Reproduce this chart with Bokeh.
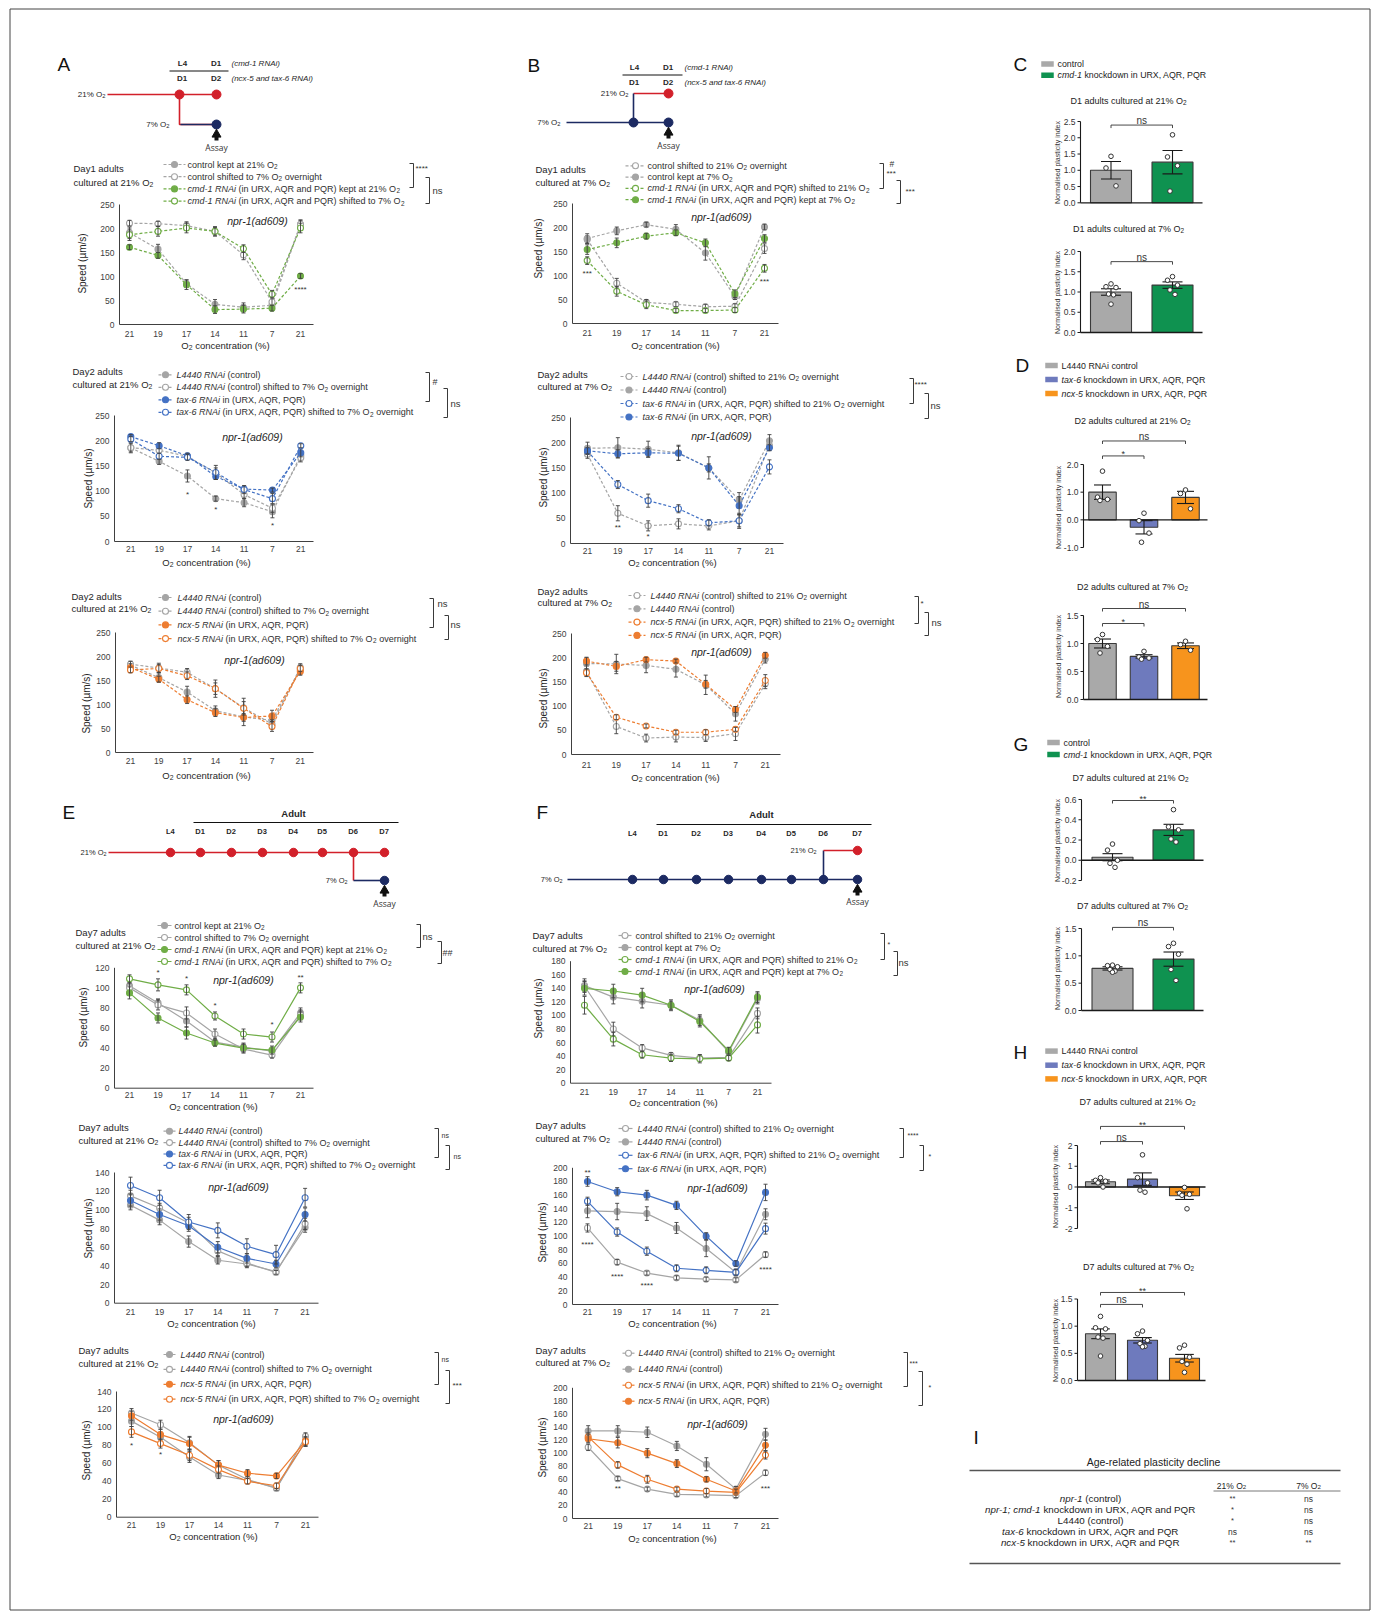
import math
from collections import defaultdict
from bokeh.plotting import figure
from bokeh.models import Range1d, ColumnDataSource
from bokeh.core.properties import value
from bokeh.embed import file_html
from bokeh.resources import INLINE

ARIAL = "Liberation Sans"
OPEN = "Open Sans"

# ------------------------------------------------------------------ data
X_LABELS = ["21", "19", "17", "14", "11", "7", "21"]

A1_LABELS = ["control kept at 21% O_2", "control shifted to 7% O_2 overnight",
             "*cmd-1 RNAi* (in URX, AQR and PQR) kept at 21% O_2",
             "*cmd-1 RNAi* (in URX, AQR and PQR) shifted to 7% O_2"]
A1_VALUES = [[191, 157, 85, 42, 36, 40, 208], [211, 210, 206, 194, 145, 47, 209],
             [161, 144, 83, 31, 32, 34, 101], [187, 194, 201, 194, 158, 63, 201]]
A1_ERRORS = [[12, 10, 8, 10, 9, 6, 10], [6, 5, 8, 8, 10, 10, 8],
             [5, 6, 10, 8, 8, 6, 5], [12, 10, 10, 10, 8, 8, 10]]
A1_STARS = [(6, 73, "****")]

A2_LABELS = ["*L4440 RNAi* (control)", "*L4440 RNAi* (control) shifted to 7% O_2 overnight",
             "*tax-6 RNAi* in (URX, AQR, PQR)", "*tax-6 RNAi* (in URX, AQR, PQR) shifted to 7% O_2 overnight"]
A2_VALUES = [[186, 159, 130, 85, 77, 59, 171], [186, 181, 169, 136, 93, 66, 166],
             [208, 190, 170, 129, 104, 102, 176], [203, 169, 167, 137, 103, 85, 190]]
A2_ERRORS = [[8, 6, 12, 5, 8, 12, 8], [10, 8, 6, 10, 8, 8, 8],
             [4, 6, 5, 6, 6, 4, 8], [5, 6, 6, 14, 8, 10, 4]]
A2_STARS = [(2, 93, "*"), (3, 63, "*"), (5, 32, "*")]

A3_LABELS = ["*L4440 RNAi* (control)", "*L4440 RNAi* (control) shifted to 7% O_2 overnight",
             "*ncx-5 RNAi* (in URX, AQR, PQR)", "*ncx-5 RNAi* (in URX, AQR, PQR) shifted to 7% O_2 overnight"]
A3_VALUES = [[182, 156, 126, 87, 74, 67, 173], [184, 176, 167, 133, 93, 59, 177],
             [177, 153, 110, 83, 73, 76, 169], [172, 175, 160, 133, 92, 54, 175]]
A3_ERRORS = [[8, 10, 12, 10, 18, 10, 10], [6, 10, 8, 18, 20, 10, 8],
             [8, 6, 8, 8, 8, 12, 8], [6, 8, 8, 12, 14, 10, 6]]

B1_LABELS = ["control shifted to 21% O_2 overnight", "control kept at 7% O_2",
             "*cmd-1 RNAi* (in URX, AQR and PQR) shifted to 21% O_2",
             "*cmd-1 RNAi* (in URX, AQR and PQR) kept at 7% O_2"]
B1_VALUES = [[175, 84, 44, 40, 35, 36, 156], [177, 193, 206, 196, 147, 56, 201],
             [131, 67, 39, 27, 27, 28, 115], [154, 168, 182, 189, 168, 62, 177]]
B1_ERRORS = [[8, 10, 6, 5, 5, 5, 10], [10, 8, 5, 10, 15, 6, 6],
             [8, 10, 8, 4, 4, 5, 8], [10, 10, 6, 6, 8, 8, 8]]
B1_STARS = [(0, 104, "***"), (6, 88, "***")]

B2_LABELS = ["*L4440 RNAi* (control) shifted to 21% O_2 overnight", "*L4440 RNAi* (control)",
             "*tax-6 RNAi* in (URX, AQR, PQR) shifted to 21% O_2 overnight", "*tax-6 RNAi* (in URX, AQR, PQR)"]
B2_VALUES = [[177, 60, 35, 39, 35, 45, 195], [189, 190, 187, 180, 150, 86, 204],
             [183, 117, 85, 69, 41, 45, 152], [184, 178, 180, 179, 150, 75, 190]]
B2_ERRORS = [[8, 15, 10, 10, 8, 15, 10], [12, 20, 16, 15, 22, 15, 12],
             [6, 8, 13, 8, 6, 12, 14], [6, 8, 8, 14, 8, 18, 6]]
B2_STARS = [(1, 32, "**"), (2, 14, "*")]

B3_LABELS = ["*L4440 RNAi* (control) shifted to 21% O_2 overnight", "*L4440 RNAi* (control)",
             "*ncx-5 RNAi* (in URX, AQR, PQR) shifted to 21% O_2 overnight", "*ncx-5 RNAi* (in URX, AQR, PQR)"]
B3_VALUES = [[172, 58, 34, 36, 35, 43, 146], [188, 187, 184, 176, 144, 84, 197],
             [169, 77, 59, 46, 46, 52, 153], [193, 182, 196, 193, 145, 93, 205]]
B3_ERRORS = [[10, 15, 8, 10, 8, 14, 10], [12, 20, 15, 16, 20, 15, 8],
             [8, 5, 4, 4, 5, 4, 12], [8, 10, 5, 4, 8, 6, 6]]

E1_LABELS = A1_LABELS
E1_VALUES = [[102, 85, 67, 46, 41, 37, 75], [100, 83, 75, 54, 39, 33, 73],
             [95, 70, 55, 45, 40, 38, 71], [109, 103, 98, 72, 54, 51, 100]]
E1_ERRORS = [[5, 4, 6, 4, 4, 3, 5], [5, 5, 6, 5, 4, 3, 5],
             [6, 5, 6, 3, 4, 4, 5], [4, 6, 5, 4, 5, 5, 5]]
E1_STARS = [(1, 115, "*"), (2, 109, "*"), (3, 82, "*"), (5, 63, "*"), (6, 110, "**")]

E2_LABELS = A2_LABELS
E2_VALUES = [[105, 89, 66, 46, 42, 34, 81], [115, 102, 86, 56, 43, 33, 85],
             [110, 95, 83, 60, 48, 42, 95], [126, 113, 87, 78, 61, 52, 113]]
E2_ERRORS = [[5, 5, 6, 4, 4, 2, 5], [6, 5, 6, 5, 4, 2, 6],
             [6, 6, 6, 6, 5, 4, 7], [9, 8, 8, 8, 8, 10, 10]]

E3_LABELS = A3_LABELS
E3_VALUES = [[107, 89, 67, 47, 41, 33, 84], [116, 103, 83, 58, 42, 32, 90],
             [113, 92, 82, 58, 49, 46, 85], [95, 82, 69, 53, 40, 35, 84]]
E3_ERRORS = [[6, 6, 6, 4, 3, 2, 5], [5, 5, 7, 5, 4, 2, 4],
             [5, 6, 7, 5, 4, 3, 5], [6, 5, 6, 4, 3, 3, 5]]
E3_STARS = [(0, 80, "*"), (1, 70, "*")]

F1_LABELS = ["control shifted to 21% O_2 overnight", "control kept at 7% O_2",
             "*cmd-1 RNAi* (in URX, AQR and PQR) shifted to 21% O_2",
             "*cmd-1 RNAi* (in URX, AQR and PQR) kept at 7% O_2"]
F1_VALUES = [[143, 80, 52, 41, 37, 38, 103], [144, 127, 121, 115, 93, 46, 125],
             [115, 65, 42, 37, 36, 37, 86], [140, 136, 130, 115, 91, 48, 127]]
F1_ERRORS = [[8, 10, 5, 4, 5, 4, 8], [10, 10, 10, 8, 8, 5, 8],
             [13, 10, 5, 5, 6, 4, 12], [10, 10, 10, 6, 8, 5, 8]]

F2_LABELS = ["*L4440 RNAi* (control) shifted to 21% O_2 overnight", "*L4440 RNAi* (control)",
             "*tax-6 RNAi* (in URX, AQR, PQR) shifted to 21% O_2 overnight", "*tax-6 RNAi* (in URX, AQR, PQR)"]
F2_VALUES = [[112, 62, 46, 39, 37, 36, 73], [137, 136, 133, 112, 82, 47, 132],
             [151, 106, 78, 53, 50, 47, 111], [180, 165, 160, 145, 100, 60, 164]]
F2_ERRORS = [[6, 4, 3, 3, 3, 3, 4], [10, 12, 10, 8, 12, 5, 8],
             [6, 6, 6, 5, 5, 4, 8], [7, 6, 7, 6, 5, 4, 12]]
F2_STARS = [(0, 193, "**"), (0, 88, "****"), (1, 41, "****"), (2, 28, "****"), (6, 51, "****")]

F3_LABELS = ["*L4440 RNAi* (control) shifted to 21% O_2 overnight", "*L4440 RNAi* (control)",
             "*ncx-5 RNAi* (in URX, AQR, PQR) shifted to 21% O_2 overnight", "*ncx-5 RNAi* (in URX, AQR, PQR)"]
F3_VALUES = [[109, 61, 45, 37, 36, 35, 70], [134, 134, 132, 111, 83, 45, 129],
             [125, 82, 60, 45, 42, 40, 97], [122, 116, 100, 84, 60, 42, 112]]
F3_ERRORS = [[5, 3, 3, 3, 3, 3, 4], [8, 8, 8, 7, 10, 4, 9],
             [6, 5, 6, 3, 4, 4, 6], [6, 8, 7, 6, 4, 3, 8]]
F3_STARS = [(1, 46, "**"), (6, 46, "***")]

# bar charts
CG_LEGEND = ["control", "*cmd-1* knockdown in URX, AQR, PQR"]
DH_LEGEND = ["L4440 RNAi control", "*tax-6* knockdown in URX, AQR, PQR", "*ncx-5* knockdown in URX, AQR, PQR"]

C1_MEAN = [1.00, 1.25]
C1_SEM = [0.27, 0.36]
C1_PTS = [[1.43, 1.07, 0.52], [2.09, 1.41, 1.14, 0.36]]
C1_BR = [(0, 1, 2.39, "ns")]
C2_MEAN = [1.00, 1.17]
C2_SEM = [0.08, 0.08]
C2_PTS = [[1.20, 1.13, 1.11, 0.95, 0.93, 0.70], [1.38, 1.29, 1.17, 1.05, 0.94]]
C2_BR = [(0, 1, 1.75, "ns")]
D1_MEAN = [1.00, -0.27, 0.81]
D1_SEM = [0.26, 0.24, 0.22]
D1_PTS = [[1.76, 0.82, 0.74, 0.70], [0.24, -0.03, -0.48, -0.81], [1.08, 0.95, 0.40]]
D1_BR = [(0, 2, 2.85, "ns"), (0, 1, 2.31, "*")]
D2_MEAN = [1.00, 0.77, 0.96]
D2_SEM = [0.08, 0.03, 0.05]
D2_PTS = [[1.16, 1.07, 0.95, 0.83], [0.86, 0.76, 0.74, 0.72], [1.04, 0.98, 0.88]]
D2_BR = [(0, 2, 1.625, "ns"), (0, 1, 1.357, "*")]
G1_MEAN = [0.03, 0.30]
G1_SEM = [0.035, 0.055]
G1_PTS = [[0.16, 0.10, 0.00, -0.03, -0.07], [0.50, 0.33, 0.30, 0.21, 0.18]]
G1_BR = [(0, 1, 0.59, "**")]
G2_MEAN = [0.77, 0.94]
G2_SEM = [0.03, 0.13]
G2_PTS = [[0.83, 0.82, 0.80, 0.75, 0.72, 0.70], [1.23, 1.17, 1.03, 0.75, 0.55]]
G2_BR = [(0, 1, 1.52, "ns")]
H1_MEAN = [0.25, 0.38, -0.42]
H1_SEM = [0.09, 0.30, 0.18]
H1_PTS = [[0.45, 0.32, 0.28, 0.20, 0.00], [1.55, 0.45, 0.20, -0.15, -0.25], [-0.02, -0.30, -0.35, -0.40, -1.05]]
H1_BR = [(0, 2, 2.92, "**"), (0, 1, 2.19, "ns")]
H2_MEAN = [0.86, 0.74, 0.41]
H2_SEM = [0.09, 0.05, 0.07]
H2_PTS = [[1.18, 0.97, 0.95, 0.80, 0.78, 0.45], [0.91, 0.86, 0.74, 0.68, 0.63, 0.62],
          [0.65, 0.60, 0.43, 0.35, 0.30, 0.15]]
H2_BR = [(0, 2, 1.62, "**"), (0, 1, 1.40, "ns")]

# table
TABLE_ROWS = ["*npr-1* (control)", "*npr-1; cmd-1* knockdown in URX, AQR and PQR", "L4440 (control)",
              "*tax-6* knockdown in URX, AQR and PQR", "*ncx-5* knockdown in URX, AQR and PQR"]
TABLE_COLS = ["21% O_2", "7% O_2"]
TABLE_21 = ["**", "*", "*", "ns", "**"]
TABLE_7 = ["ns", "ns", "ns", "ns", "**"]

A_STAGES = ["L4", "D1"]
A_STAGES2 = ["D1", "D2"]
E_STAGES = ["L4", "D1", "D2", "D3", "D4", "D5", "D6", "D7"]

# ------------------------------------------------------------------ styles
GRAY = "#a5a5a5"
GREEN = "#70ad47"
BLUE = "#4472c4"
ORANGE = "#ed7d31"
ERRC = "#404040"
AXC = "#404040"
TXT = "#262626"
TICK = "#404040"
RED = "#d2202a"
NAVY = "#1c2a62"
BAR_GRAY = "#a9a9a9"
BAR_GREEN = "#0f9250"
BAR_BLUE = "#6e7abd"
BAR_ORANGE = "#f7941d"
BAR_LINE = "#3a3a3a"
SUBF = 0.72

AW = {' ': 278, '!': 278, '"': 355, '#': 556, '%': 889, '&': 667, "'": 191, '(': 333, ')': 333, '*': 389,
      '+': 584, ',': 278, '-': 333, '.': 278, '/': 278, ':': 278, ';': 278, '?': 556, 'A': 667, 'B': 667,
      'C': 722, 'D': 722, 'E': 667, 'F': 611, 'G': 778, 'H': 722, 'I': 278, 'J': 500, 'K': 667, 'L': 556,
      'M': 833, 'N': 722, 'O': 778, 'P': 667, 'Q': 778, 'R': 722, 'S': 667, 'T': 611, 'U': 722, 'V': 667,
      'W': 944, 'X': 667, 'Y': 667, 'Z': 611, 'a': 556, 'b': 556, 'c': 500, 'd': 556, 'e': 556, 'f': 278,
      'g': 556, 'h': 556, 'i': 222, 'j': 222, 'k': 500, 'l': 222, 'm': 833, 'n': 556, 'o': 556, 'p': 556,
      'q': 556, 'r': 333, 's': 500, 't': 278, 'u': 556, 'v': 500, 'w': 722, 'x': 500, 'y': 500, 'z': 500,
      'µ': 556}


def tw(s, size, bold=False):
    return sum(AW.get(c, 556) for c in s) / 1000.0 * size * (1.07 if bold else 1.0)


TEXTS = []


def add_text(x, y, s, size, style="normal", align="left", baseline="middle", color=TXT, angle=0.0, font=ARIAL):
    TEXTS.append((x, y, s, round(size, 2), style, align, baseline, color, round(angle, 5), font))


def parse_rich(s):
    runs, ital, buf, i = [], False, "", 0
    while i < len(s):
        c = s[i]
        if c == "*":
            if buf:
                runs.append((buf, ital, False))
                buf = ""
            ital = not ital
        elif c == "_":
            if buf:
                runs.append((buf, ital, False))
                buf = ""
            runs.append((s[i + 1], False, True))
            i += 1
        else:
            buf += c
        i += 1
    if buf:
        runs.append((buf, ital, False))
    return runs


def rich(x, y, s, size, align="left", color=TXT, bold=False, font=ARIAL, plain=False):
    runs = [(s, False, False)] if plain else parse_rich(s)
    ws = [tw(t, size * (SUBF if sb else 1.0), bold and not sb) for t, it, sb in runs]
    tot = sum(ws)
    cx = x - (tot if align == "right" else tot / 2.0 if align == "center" else 0.0)
    for (t, it, sb), w in zip(runs, ws):
        fs = size * (SUBF if sb else 1.0)
        lead = len(t) - len(t.lstrip(" "))
        core = t.strip(" ")
        if core:
            x0 = cx + tw(" " * lead, fs, bold and not sb)
            if sb:
                add_text(x0, y + 0.22 * size, core, fs, "normal", "left", "middle", color, 0.0, font)
            else:
                style = "italic" if it else ("bold" if bold else "normal")
                add_text(x0, y, core, fs, style, "left", "middle", color, 0.0, font)
        cx += w


# ------------------------------------------------------------------ canvas (page pixel coordinates)
PW, PH = 1372, 1612
p = figure(width=PW, height=PH, x_range=Range1d(0, PW), y_range=Range1d(PH, 0),
           output_backend="svg", toolbar_location=None, x_axis_location=None, y_axis_location=None,
           min_border=0, outline_line_color=None)
p.grid.visible = False
p.background_fill_color = "white"
p.border_fill_color = "white"

# outer frame
p.line(x=[9.5, 1369.5, 1369.5, 9.5, 9.5], y=[8.5, 8.5, 1609.5, 1609.5, 8.5], line_color="#444444", line_width=1)


def bracket(x, y1, y2, w=4):
    p.line(x=[x - w, x, x, x - w], y=[y1, y1, y2, y2], line_color="#3a3a3a", line_width=1)


def line_chart(labels, vals, errs, colors, filled, dash, ymax, ystep, title, stars, L):
    n = len(X_LABELS)
    xs = list(range(n))
    x_lo = (L["axl"] - L["cx0"]) / L["cdx"]
    x_hi = (L["axr"] - L["cx0"]) / L["cdx"]
    sub = p.subplot(x_source=Range1d(x_lo, x_hi), y_source=Range1d(0, ymax),
                    x_target=Range1d(L["axl"], L["axr"]), y_target=Range1d(L["y0"], L["ytop"]))
    dpp = ymax / (L["y0"] - L["ytop"])
    sub.line(x=[x_lo, x_lo, x_hi], y=[ymax, 0, 0], line_color=AXC, line_width=1)
    yt = list(range(0, ymax + 1, ystep))
    sub.text(x=[x_lo] * len(yt), y=yt, text=[str(v) for v in yt], x_offset=-5, text_align="right",
             text_baseline="middle", text_font=value(ARIAL), text_font_size=value("8.5px"), text_color=TICK)
    ylab = -(L["xlab"] - L["y0"]) * dpp
    sub.text(x=xs, y=[ylab] * n, text=X_LABELS, text_align="center", text_baseline="middle",
             text_font=value(ARIAL), text_font_size=value("8.5px"), text_color=TICK)
    for k in range(len(vals)):
        v, e, c = vals[k], errs[k], colors[k]
        sub.line(x=xs, y=v, line_color=c, line_width=1.2, line_dash=dash)
        sub.scatter(x=xs, y=v, size=6, marker="circle", fill_color=c if filled[k] else "white",
                    line_color=c, line_width=1.1)
        lo = [a - b for a, b in zip(v, e)]
        hi = [a + b for a, b in zip(v, e)]
        sub.segment(x0=xs, y0=lo, x1=xs, y1=hi, line_color=ERRC, line_width=0.9)
        sub.scatter(x=xs + xs, y=lo + hi, marker="dash", size=4, line_color=ERRC, line_width=0.9)
    for (ci, yv, s) in stars:
        sub.text(x=[ci], y=[yv], text=[s], text_align="center", text_baseline="middle",
                 text_font=value(ARIAL), text_font_size=value("8px"), text_color="#333333")
    # legend
    for k in range(len(vals)):
        y = L["ly0"] + k * L["ldy"]
        c = colors[k]
        p.line(x=[L["lx0"], L["lx0"] + L["llen"]], y=[y, y], line_color=c, line_width=1.2, line_dash=dash)
        p.scatter(x=[L["lx0"] + L["llen"] / 2.0], y=[y], size=6, marker="circle",
                  fill_color=c if filled[k] else "white", line_color=c, line_width=1.1)
        rich(L["ltx"], y, labels[k], 9.0, color="#303030")
    rich(L["tt"][0], L["tt"][1], title[0], 9.5)
    rich(L["tt"][0], L["tt"][2], title[1], 9.5)
    rich(L["npr"][0], L["npr"][1], "*npr-1(ad609)*", 10.5, align="center")
    rich(L["xt"][0], L["xt"][1], "O_2 concentration (%)", 9.5, align="center")
    add_text(L["yt"][0], L["yt"][1], "Speed (µm/s)", 10, align="center", angle=math.pi / 2)
    for (bx, b1, b2) in L["br"]:
        bracket(bx, b1, b2)
    for (s, bx, by, fs) in L["bl"]:
        add_text(bx, by, s, fs, align="left", color="#333333")


def bar_chart(means, sems, pts, colors, brs, ymin, ymax, ticks, tick_fmt, title, L):
    n = len(means)
    xs = list(range(n))
    dx = L["bc"][1] - L["bc"][0]
    x_lo = (L["axx"] - L["bc"][0]) / dx
    x_hi = (L["brx"] - L["bc"][0]) / dx
    sub = p.subplot(x_source=Range1d(x_lo, x_hi), y_source=Range1d(ymin, ymax),
                    x_target=Range1d(L["axx"], L["brx"]), y_target=Range1d(L["ylo"], L["yhi"]))
    dpp = (ymax - ymin) / (L["ylo"] - L["yhi"])
    bw = L["bw"] / dx
    sub.vbar(x=xs, top=means, bottom=0, width=bw, fill_color=colors, line_color=BAR_LINE, line_width=1.1)
    sub.line(x=[x_lo, x_hi], y=[0, 0], line_color="#1a1a1a", line_width=1.3)
    sub.line(x=[x_lo, x_lo], y=[ymin, ymax], line_color="#1a1a1a", line_width=1.1)
    nt = len(ticks)
    sub.segment(x0=[x_lo - 3.0 / dx] * nt, y0=ticks, x1=[x_lo] * nt, y1=ticks, line_color="#1a1a1a", line_width=1)
    sub.text(x=[x_lo] * nt, y=ticks, text=[tick_fmt.format(t) for t in ticks], x_offset=-5, text_align="right",
             text_baseline="middle", text_font=value(ARIAL), text_font_size=value("8.5px"), text_color="#333333")
    cw = min(20.0, 0.62 * L["bw"]) / 2.0 / dx
    lo = [m - s for m, s in zip(means, sems)]
    hi = [m + s for m, s in zip(means, sems)]
    sub.segment(x0=xs, y0=lo, x1=xs, y1=hi, line_color="#1a1a1a", line_width=1.1)
    sub.segment(x0=[x - cw for x in xs] * 2, y0=lo + hi, x1=[x + cw for x in xs] * 2, y1=lo + hi,
                line_color="#1a1a1a", line_width=1.1)
    pattern = [0.0, -5.0, 5.0, -2.5, 2.5, 0.0]
    for i, vals in enumerate(pts):
        px = [i + pattern[k % len(pattern)] / dx for k in range(len(vals))]
        sub.scatter(x=px, y=vals, size=4.6, marker="circle", fill_color="white", line_color="#333333",
                    line_width=1.0)
    tick = 3.0 * dpp
    for (i, j, yv, lab) in brs:
        sub.line(x=[i, i, j, j], y=[yv - tick, yv, yv, yv - tick], line_color="#333333", line_width=0.9)
        is_ns = lab == "ns"
        sub.text(x=[(i + j) / 2.0], y=[yv + (4.5 if is_ns else 1.5) * dpp], text=[lab], text_align="center",
                 text_baseline="alphabetic", text_font=value(ARIAL),
                 text_font_size=value("10px" if is_ns else "9px"), text_color="#333333")
    rich(L["tt"][0], L["tt"][1], title, 9.0, align="center", color="#222222")
    add_text(L["yt"][0], L["yt"][1], "Normalised plasticity index", 7.0, align="center", angle=math.pi / 2,
             color="#333333")


def bar_legend(x, ys, labels, colors):
    for y, lab, c in zip(ys, labels, colors):
        p.rect(x=[x + 6], y=[y], width=12.5, height=5.5, fill_color=c, line_color=None)
        rich(x + 16, y, lab, 8.8, color="#222222")


def arrow(x, y):
    p.scatter(x=[x], y=[y], marker="triangle", size=9, fill_color="#111111", line_color="#111111")
    p.rect(x=[x], y=[y + 4], width=4, height=4, fill_color="#111111", line_color=None)


# ------------------------------------------------------------------ panel letters
for let, lx, ly in [("A", 57, 64), ("B", 527, 65), ("C", 1013, 64), ("D", 1015, 365), ("E", 62, 812),
                    ("F", 536, 812), ("G", 1013, 744), ("H", 1013, 1052), ("I", 973, 1437)]:
    add_text(lx, ly, let, 19, color="#111111")

# ------------------------------------------------------------------ timeline A
for s, x in zip(A_STAGES, [182, 216]):
    rich(x, 63, s, 8, align="center", bold=True)
for s, x in zip(A_STAGES2, [182, 216]):
    rich(x, 78, s, 8, align="center", bold=True)
p.line(x=[169, 228], y=[70.5, 70.5], line_color="#111111", line_width=1)
rich(231, 63, "*(cmd-1 RNAi)*", 8)
rich(231, 78, "*(ncx-5 and tax-6 RNAi)*", 8)
p.line(x=[107, 216], y=[94, 94], line_color=RED, line_width=1.6)
p.line(x=[179, 179, 216], y=[94, 124, 124], line_color=RED, line_width=1.6)
p.line(x=[180, 216], y=[124, 124], line_color=NAVY, line_width=1.6)
p.scatter(x=[179, 216], y=[94, 94], size=9, fill_color=RED, line_color=RED)
p.scatter(x=[216], y=[124], size=9, fill_color=NAVY, line_color=NAVY)
rich(105, 94, "21% O_2", 8, align="right")
rich(169, 124, "7% O_2", 8, align="right")
arrow(216, 134)
add_text(216, 147, "Assay", 8.5, align="center", font=OPEN, color="#333333")

# ------------------------------------------------------------------ timeline B
for s, x in zip(A_STAGES, [634, 668]):
    rich(x, 67, s, 8, align="center", bold=True)
for s, x in zip(A_STAGES2, [634, 668]):
    rich(x, 82, s, 8, align="center", bold=True)
p.line(x=[622, 682], y=[74.5, 74.5], line_color="#111111", line_width=1)
rich(684, 67, "*(cmd-1 RNAi)*", 8)
rich(684, 82, "*(ncx-5 and tax-6 RNAi)*", 8)
p.line(x=[633, 668], y=[93, 93], line_color=RED, line_width=1.6)
p.line(x=[633, 633], y=[93, 122], line_color=NAVY, line_width=1.6)
p.line(x=[566, 668], y=[122, 122], line_color=NAVY, line_width=1.6)
p.scatter(x=[668], y=[93], size=9, fill_color=RED, line_color=RED)
p.scatter(x=[633, 668], y=[122, 122], size=9, fill_color=NAVY, line_color=NAVY)
rich(628, 93, "21% O_2", 8, align="right")
rich(560, 122, "7% O_2", 8, align="right")
arrow(668, 132)
add_text(668, 145, "Assay", 8.5, align="center", font=OPEN, color="#333333")

# ------------------------------------------------------------------ timeline E
EX = [170, 200, 231, 262, 293, 322, 353, 384]
add_text(293, 813, "Adult", 9.5, style="bold", align="center")
p.line(x=[193, 398], y=[822, 822], line_color="#111111", line_width=1)
for s, x in zip(E_STAGES, EX):
    rich(x, 830.5, s, 7.5, align="center", bold=True)
p.line(x=[108, 384], y=[852, 852], line_color=RED, line_width=1.6)
p.line(x=[353, 353], y=[852, 880], line_color=RED, line_width=1.6)
p.line(x=[353, 384], y=[880, 880], line_color=NAVY, line_width=1.6)
p.scatter(x=EX, y=[852] * len(EX), size=8.5, fill_color=RED, line_color=RED)
p.scatter(x=[384], y=[880], size=8.5, fill_color=NAVY, line_color=NAVY)
rich(106, 852, "21% O_2", 7.5, align="right")
rich(347, 880, "7% O_2", 7.5, align="right")
arrow(384, 890)
add_text(384, 903, "Assay", 8.5, align="center", font=OPEN, color="#333333")

# ------------------------------------------------------------------ timeline F
FX = [632, 663, 696, 728, 761, 791, 823, 857]
add_text(761, 814, "Adult", 9.5, style="bold", align="center")
p.line(x=[656, 871], y=[824, 824], line_color="#111111", line_width=1)
for s, x in zip(E_STAGES, FX):
    rich(x, 832.5, s, 7.5, align="center", bold=True)
p.line(x=[567, 857], y=[879, 879], line_color=NAVY, line_width=1.6)
p.line(x=[823, 823], y=[879, 850], line_color=NAVY, line_width=1.6)
p.line(x=[823, 857], y=[850, 850], line_color=RED, line_width=1.6)
p.scatter(x=FX, y=[879] * len(FX), size=8.5, fill_color=NAVY, line_color=NAVY)
p.scatter(x=[857], y=[850], size=8.5, fill_color=RED, line_color=RED)
rich(562, 879, "7% O_2", 7.5, align="right")
rich(816, 850, "21% O_2", 7.5, align="right")
arrow(857, 889)
add_text(857, 901, "Assay", 8.5, align="center", font=OPEN, color="#333333")

# ------------------------------------------------------------------ line charts
GG = [GRAY, GRAY, GREEN, GREEN]
GB = [GRAY, GRAY, BLUE, BLUE]
GO = [GRAY, GRAY, ORANGE, ORANGE]
FO = [True, False, True, False]
OF = [False, True, False, True]
DASH = "3 2"
SOLID = "solid"

line_chart(A1_LABELS, A1_VALUES, A1_ERRORS, GG, FO, DASH, 250, 50, ["Day1 adults", "cultured at 21% O_2"], A1_STARS,
           dict(axl=119, axr=313, y0=324, ytop=204, cx0=129, cdx=28.5, xlab=333, xt=(225, 345), yt=(82, 263),
                npr=(257, 220), tt=(73, 168, 182), lx0=163, llen=22, ldy=12.2, ly0=164, ltx=187,
                br=[(413, 163, 187), (429, 177, 203)], bl=[("****", 415, 168, 8), ("ns", 432, 190, 9.5)]))
line_chart(A2_LABELS, A2_VALUES, A2_ERRORS, GB, FO, DASH, 250, 50, ["Day2 adults", "cultured at 21% O_2"], A2_STARS,
           dict(axl=114, axr=313, y0=541, ytop=415, cx0=130.3, cdx=28.33, xlab=548, xt=(206, 562), yt=(88, 478),
                npr=(252, 436), tt=(72, 371, 384), lx0=158, llen=14, ldy=12.5, ly0=374.3, ltx=176,
                br=[(429, 372, 401), (447, 388, 417)], bl=[("#", 432, 381, 9), ("ns", 450, 403, 9.5)]))
line_chart(A3_LABELS, A3_VALUES, A3_ERRORS, GO, FO, DASH, 250, 50, ["Day2 adults", "cultured at 21% O_2"], [],
           dict(axl=115, axr=313, y0=752, ytop=632, cx0=130, cdx=28.3, xlab=760, xt=(206, 775), yt=(86, 703),
                npr=(254, 659), tt=(71, 596, 608), lx0=158, llen=14, ldy=13.7, ly0=597, ltx=177,
                br=[(433, 598, 627), (448, 615, 639)], bl=[("ns", 437, 603, 9.5), ("ns", 450, 624, 9.5)]))
line_chart(B1_LABELS, B1_VALUES, B1_ERRORS, GG, OF, DASH, 250, 50, ["Day1 adults", "cultured at 7% O_2"], B1_STARS,
           dict(axl=572, axr=778, y0=323, ytop=203, cx0=586.7, cdx=29.55, xlab=332, xt=(675, 345), yt=(538, 248),
                npr=(721, 216), tt=(535, 169, 182), lx0=625, llen=20, ldy=11.3, ly0=165.3, ltx=647,
                br=[(883, 163, 188), (900, 180, 203)],
                bl=[("#", 889, 163, 8.5), ("***", 886, 173, 8), ("***", 905, 191, 8)]))
line_chart(B2_LABELS, B2_VALUES, B2_ERRORS, GB, OF, DASH, 250, 50, ["Day2 adults", "cultured at 7% O_2"], B2_STARS,
           dict(axl=570, axr=783, y0=543, ytop=417, cx0=587, cdx=30.33, xlab=550, xt=(672, 562), yt=(543, 477),
                npr=(721, 435), tt=(537, 374, 386), lx0=620, llen=17, ldy=13.5, ly0=376, ltx=642,
                br=[(913, 378, 403), (928, 393, 418)], bl=[("****", 914, 384, 8), ("ns", 930, 405, 9.5)]))
line_chart(B3_LABELS, B3_VALUES, B3_ERRORS, GO, OF, DASH, 250, 50, ["Day2 adults", "cultured at 7% O_2"], [],
           dict(axl=571, axr=780, y0=754, ytop=633, cx0=586, cdx=29.8, xlab=764, xt=(675, 777), yt=(543, 698),
                npr=(721, 651), tt=(537, 591, 602), lx0=628, llen=17, ldy=13.3, ly0=595, ltx=650,
                br=[(918, 596, 623), (928, 612, 635)], bl=[("*", 920, 603, 8), ("ns", 931, 622, 9.5)]))
line_chart(E1_LABELS, E1_VALUES, E1_ERRORS, GG, FO, SOLID, 120, 20, ["Day7 adults", "cultured at 21% O_2"],
           E1_STARS,
           dict(axl=114, axr=313, y0=1087.7, ytop=967.3, cx0=129, cdx=28.5, xlab=1094, xt=(213, 1106),
                yt=(83, 1017), npr=(243, 979), tt=(75, 932, 945), lx0=157, llen=14, ldy=12, ly0=925, ltx=174,
                br=[(420, 924, 947), (441, 941, 963)], bl=[("ns", 422, 936, 9.5), ("##", 442, 952, 9)]))
line_chart(E2_LABELS, E2_VALUES, E2_ERRORS, GB, FO, SOLID, 140, 20, ["Day7 adults", "cultured at 21% O_2"], [],
           dict(axl=114, axr=318, y0=1302.7, ytop=1172, cx0=130, cdx=29.1, xlab=1311, xt=(211, 1323),
                yt=(88, 1228), npr=(238, 1186), tt=(78, 1127, 1140), lx0=163, llen=12, ldy=11.4, ly0=1130.7,
                ltx=178, br=[(438, 1128, 1157), (449, 1145, 1169)],
                bl=[("ns", 441, 1135, 7), ("ns", 453, 1156, 7)]))
line_chart(E3_LABELS, E3_VALUES, E3_ERRORS, GO, FO, SOLID, 140, 20, ["Day7 adults", "cultured at 21% O_2"], E3_STARS,
           dict(axl=116, axr=318, y0=1516.7, ytop=1391, cx0=131, cdx=29, xlab=1524.5, xt=(213, 1536),
                yt=(86, 1450), npr=(243, 1418), tt=(78, 1350, 1363), lx0=163, llen=12, ldy=14.9, ly0=1354,
                ltx=180, br=[(438, 1352, 1384), (449, 1370, 1403)],
                bl=[("ns", 441, 1359, 7), ("***", 452, 1385, 8)]))
line_chart(F1_LABELS, F1_VALUES, F1_ERRORS, GG, OF, SOLID, 180, 20, ["Day7 adults", "cultured at 7% O_2"], [],
           dict(axl=570, axr=771, y0=1082.7, ytop=960.7, cx0=584, cdx=28.83, xlab=1091.7, xt=(673, 1102),
                yt=(538, 1008), npr=(714, 988), tt=(532, 935, 948), lx0=618, llen=13, ldy=12, ly0=935, ltx=635,
                br=[(884, 933, 959), (897, 951, 975)], bl=[("*", 887, 944, 7), ("ns", 898, 962, 9.5)]))
line_chart(F2_LABELS, F2_VALUES, F2_ERRORS, GB, OF, SOLID, 200, 20, ["Day7 adults", "cultured at 7% O_2"], F2_STARS,
           dict(axl=572, axr=778, y0=1304, ytop=1167.3, cx0=587, cdx=29.67, xlab=1311, xt=(672, 1323),
                yt=(542, 1232), npr=(717, 1187), tt=(535, 1125, 1138), lx0=618, llen=14, ldy=13.4, ly0=1128,
                ltx=637, br=[(903, 1128, 1157), (923, 1145, 1170)],
                bl=[("****", 907, 1135, 7), ("*", 928, 1156, 7)]))
line_chart(F3_LABELS, F3_VALUES, F3_ERRORS, GO, OF, SOLID, 200, 20, ["Day7 adults", "cultured at 7% O_2"], F3_STARS,
           dict(axl=572, axr=778, y0=1518, ytop=1387.3, cx0=587.7, cdx=29.55, xlab=1525.5, xt=(672, 1538),
                yt=(542, 1447), npr=(717, 1423), tt=(535, 1350, 1362), lx0=622, llen=12, ldy=16, ly0=1352.7,
                ltx=638, br=[(907, 1352, 1386), (922, 1371, 1405)],
                bl=[("***", 909, 1363, 7), ("*", 928, 1387, 7)]))

# ------------------------------------------------------------------ bar charts
CG = [BAR_GRAY, BAR_GREEN]
DH = [BAR_GRAY, BAR_BLUE, BAR_ORANGE]
bar_legend(1041, [63.5, 74.8], CG_LEGEND, CG)
bar_chart(C1_MEAN, C1_SEM, C1_PTS, CG, C1_BR, 0, 2.5, [0, 0.5, 1.0, 1.5, 2.0, 2.5], "{:.1f}",
          "D1 adults cultured at 21% O_2",
          dict(axx=1080, brx=1202, ylo=202.3, yhi=121, bc=[1110.5, 1172], bw=41, tt=(1128, 100), yt=(1057, 162)))
bar_chart(C2_MEAN, C2_SEM, C2_PTS, CG, C2_BR, 0, 2.0, [0, 0.5, 1.0, 1.5, 2.0], "{:.1f}",
          "D1 adults cultured at 7% O_2",
          dict(axx=1080, brx=1202, ylo=332, yhi=251, bc=[1110.5, 1172], bw=41, tt=(1128, 228), yt=(1057, 292)))
bar_legend(1045, [365, 379, 393], DH_LEGEND, DH)
bar_chart(D1_MEAN, D1_SEM, D1_PTS, DH, D1_BR, -1.0, 2.0, [-1.0, 0.0, 1.0, 2.0], "{:.1f}",
          "D2 adults cultured at 21% O_2",
          dict(axx=1083, brx=1207, ylo=547, yhi=464, bc=[1102, 1143.5, 1185], bw=27.5, tt=(1132, 420),
               yt=(1058, 507)))
bar_chart(D2_MEAN, D2_SEM, D2_PTS, DH, D2_BR, 0, 1.5, [0, 0.5, 1.0, 1.5], "{:.1f}",
          "D2 adults cultured at 7% O_2",
          dict(axx=1083, brx=1207, ylo=699, yhi=615, bc=[1102, 1143.5, 1185], bw=27.5, tt=(1132, 586),
               yt=(1058, 656)))
bar_legend(1047, [742, 754], CG_LEGEND, CG)
bar_chart(G1_MEAN, G1_SEM, G1_PTS, CG, G1_BR, -0.2, 0.6, [-0.2, 0.0, 0.2, 0.4, 0.6], "{:.1f}",
          "D7 adults cultured at 21% O_2",
          dict(axx=1081, brx=1203, ylo=880, yhi=799, bc=[1112, 1173], bw=41, tt=(1130, 777), yt=(1057, 840)))
bar_chart(G2_MEAN, G2_SEM, G2_PTS, CG, G2_BR, 0, 1.5, [0, 0.5, 1.0, 1.5], "{:.1f}",
          "D7 adults cultured at 7% O_2",
          dict(axx=1081, brx=1203, ylo=1010, yhi=928, bc=[1112, 1173], bw=41, tt=(1132, 905), yt=(1057, 968)))
bar_legend(1045, [1050.6, 1064.7, 1078.4], DH_LEGEND, DH)
bar_chart(H1_MEAN, H1_SEM, H1_PTS, DH, H1_BR, -2, 2, [-2, -1, 0, 1, 2], "{:d}",
          "D7 adults cultured at 21% O_2",
          dict(axx=1077, brx=1205, ylo=1228, yhi=1145, bc=[1100, 1142, 1184], bw=30, tt=(1137, 1101),
               yt=(1055, 1186)))
bar_chart(H2_MEAN, H2_SEM, H2_PTS, DH, H2_BR, 0, 1.5, [0, 0.5, 1.0, 1.5], "{:.1f}",
          "D7 adults cultured at 7% O_2",
          dict(axx=1077, brx=1205, ylo=1380, yhi=1298.5, bc=[1100, 1142, 1184], bw=30, tt=(1138, 1266),
               yt=(1055, 1340)))

# ------------------------------------------------------------------ table I
add_text(1153, 1461.5, "Age-related plasticity decline", 10.5, align="center", color="#222222")
p.line(x=[969, 1340], y=[1470, 1470], line_color="#555555", line_width=1.6)
p.line(x=[1213, 1340], y=[1490.5, 1490.5], line_color="#555555", line_width=0.8)
p.line(x=[969, 1340], y=[1563, 1563], line_color="#555555", line_width=1.6)
rich(1231, 1485, TABLE_COLS[0], 8.5, align="center", color="#222222")
rich(1308, 1485, TABLE_COLS[1], 8.5, align="center", color="#222222")
ROW_Y = [1498, 1509, 1520, 1531, 1541.5]
for lab, a, b, y in zip(TABLE_ROWS, TABLE_21, TABLE_7, ROW_Y):
    rich(1090, y, lab, 9.8, align="center", color="#222222")
    rich(1232, y, a, 7.5 if "*" in a else 8.5, align="center", color="#333333", plain=True)
    rich(1308, y, b, 7.5 if "*" in b else 8.5, align="center", color="#333333", plain=True)

# ------------------------------------------------------------------ render texts
groups = defaultdict(lambda: {"x": [], "y": [], "text": []})
for (x, y, s, size, style, align, baseline, color, angle, font) in TEXTS:
    g = groups[(size, style, align, baseline, color, angle, font)]
    g["x"].append(x)
    g["y"].append(y)
    g["text"].append(s)
for (size, style, align, baseline, color, angle, font), g in groups.items():
    p.text(x="x", y="y", text="text", source=ColumnDataSource(g), text_font=value(font),
           text_font_size=value(f"{size}px"), text_font_style=style, text_align=align,
           text_baseline=baseline, text_color=color, angle=angle)

open("out.html", "w").write(file_html(p, INLINE))
